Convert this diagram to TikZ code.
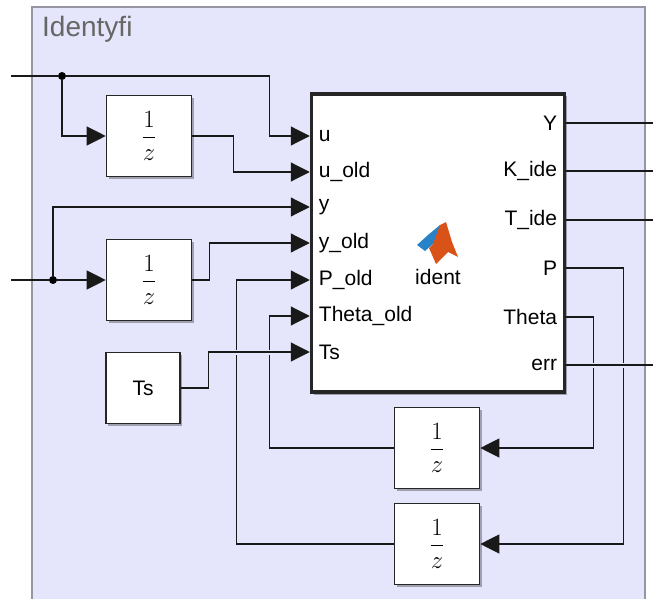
\documentclass[tikz,border=0pt]{standalone}
\usepackage{fontspec}
\setmainfont{Liberation Sans}
\usepackage{amsmath}
\usetikzlibrary{arrows.meta, calc}
\definecolor{panel}{RGB}{229,229,251}
\definecolor{frame}{RGB}{150,150,162}
\definecolor{mlorange}{RGB}{217,83,25}
\definecolor{mlblue}{RGB}{40,130,200}
\newcommand{\portfont}{\fontsize{21}{23}\selectfont}
\newcommand{\zinv}{\fontsize{25}{28}\selectfont$\displaystyle\frac{1}{z}$}
\tikzset{
	blk/.style={draw=black!85, line width=1.6pt, fill=white, inner sep=0pt,
		preaction={fill=black, opacity=.3, transform canvas={xshift=2pt, yshift=-2.5pt}}},
	delay/.style={blk, minimum width=85pt, minimum height=81pt},
	portl/.style={anchor=west, inner xsep=9pt, inner ysep=0pt, font=\portfont},
	portr/.style={anchor=east, inner xsep=9pt, inner ysep=0pt, font=\portfont},
	wire/.style={line width=1.2pt, draw=black!90},
	sig/.style={wire, -{Triangle[length=19pt, width=19pt]}},
	hop/.style={preaction={draw=panel, line width=5pt, -, shorten <=8pt, shorten >=22pt}},
	junc/.style={circle, fill=black, inner sep=0pt, minimum size=8pt}
}

\begin{document}
\begin{tikzpicture}[x=1pt, y=-1pt]
	
	\useasboundingbox (0,0) rectangle (653,599);
	\fill [white] (0,0) rectangle (653,599);
	\draw [frame, fill=panel, line width=1.5pt] (32,620) -- (32,7) -- (645,7) -- (645,620);
	\node [anchor=base west, inner sep=0pt, text=black!60, font=\fontsize{28}{30}\selectfont] (title) at (42,37) {Identyfi};
	
	
	\node [blk, line width=3.5pt, minimum width=253pt, minimum height=298pt] (ident) at (438,243) {};
	
	% ports in
	\node [portl] (pu) at (ident.west |- 0,136) {u};
	\node [portl] (puold) at (ident.west |- 0,172) {u\_old};
	\node [portl] (py) at (ident.west |- 0,207) {y};
	\node [portl] (pyold) at (ident.west |- 0,243) {y\_old};
	\node [portl] (pPold) at (ident.west |- 0,280) {P\_old};
	\node [portl] (pThold) at (ident.west |- 0,316) {Theta\_old};
	\node [portl] (pts) at (ident.west |- 0,352) {Ts};
	
	% ports out
	\node [portr] (pY) at (ident.east |- 0,123) {Y};
	\node [portr] (pK) at (ident.east |- 0,171) {K\_ide};
	\node [portr] (pT) at (ident.east |- 0,220) {T\_ide};
	\node [portr] (pP) at (ident.east |- 0,268) {P};
	\node [portr] (pTheta) at (ident.east |- 0,317) {Theta};
	\node [portr] (perr) at (ident.east |- 0,365) {err};
	
	% matlab logo
	\fill [mlblue] (417,245) -- (428,235) -- (440,225) -- (444,228) -- (433,244) -- (425,251) -- cycle;
	\fill [mlorange] (440,225) -- (446,222) -- (452,242) -- (458,257) -- (448,252) -- (436,264) -- (429,248) -- (433,244) -- cycle;
	\node [font=\fontsize{21}{22}\selectfont] (name) at (438,277) {ident};
	
	
	\node [delay] (d1) at (149,136) {\zinv};
	\node [delay] (d2) at (149,280) {\zinv};
	\node [delay] (d3) at (437,448) {\zinv};
	\node [delay] (d4) at (437,544) {\zinv};
	\node [blk, minimum width=74pt, minimum height=71pt, font=\fontsize{21}{22}\selectfont] (ts) at (143,388) {Ts};
	
	\coordinate (in1) at (11,76);
	\coordinate (in2) at (11,280);
	\node [junc] (j1) at (62,76) {};
	\node [junc] (j2) at (53,280) {};
	
	% inputs
	\draw [wire] (in1) -- (j1);
	\draw [sig] (j1) -| ([xshift=-40pt]pu.west) -- (pu.west);
	\draw [sig] (j1) |- (d1.west);
	\draw [sig] (d1.east) -- ++(41,0) |- (puold.west);
	\draw [wire] (in2) -- (j2);
	\draw [sig] (j2) -- (d2.west);
	\draw [sig] (j2) |- (py.west);
	\draw [sig] (d2.east) -- ++(17,0) |- (pyold.west);
	
	% feedback
	\draw [sig] (pP.east) -- ++(57,0) |- (d4.east);
	\draw [sig] (d4.west) -| ([xshift=-73pt]pPold.west) -- (pPold.west);
	\draw [sig] (pTheta.east) -- ++(27,0) |- (d3.east);
	\draw [sig] (d3.west) -| ([xshift=-40pt]pThold.west) -- (pThold.west);
	\draw [sig, hop] (ts.east) -- ++(28,0) |- (pts.west);
	
	% outputs
	\draw [wire] (pY.east) -- (pY.east -| 653,0);
	\draw [wire] (pK.east) -- (pK.east -| 653,0);
	\draw [wire] (pT.east) -- (pT.east -| 653,0);
	\draw [wire, hop] (perr.east) -- (perr.east -| 653,0);
	
\end{tikzpicture}
\end{document}
